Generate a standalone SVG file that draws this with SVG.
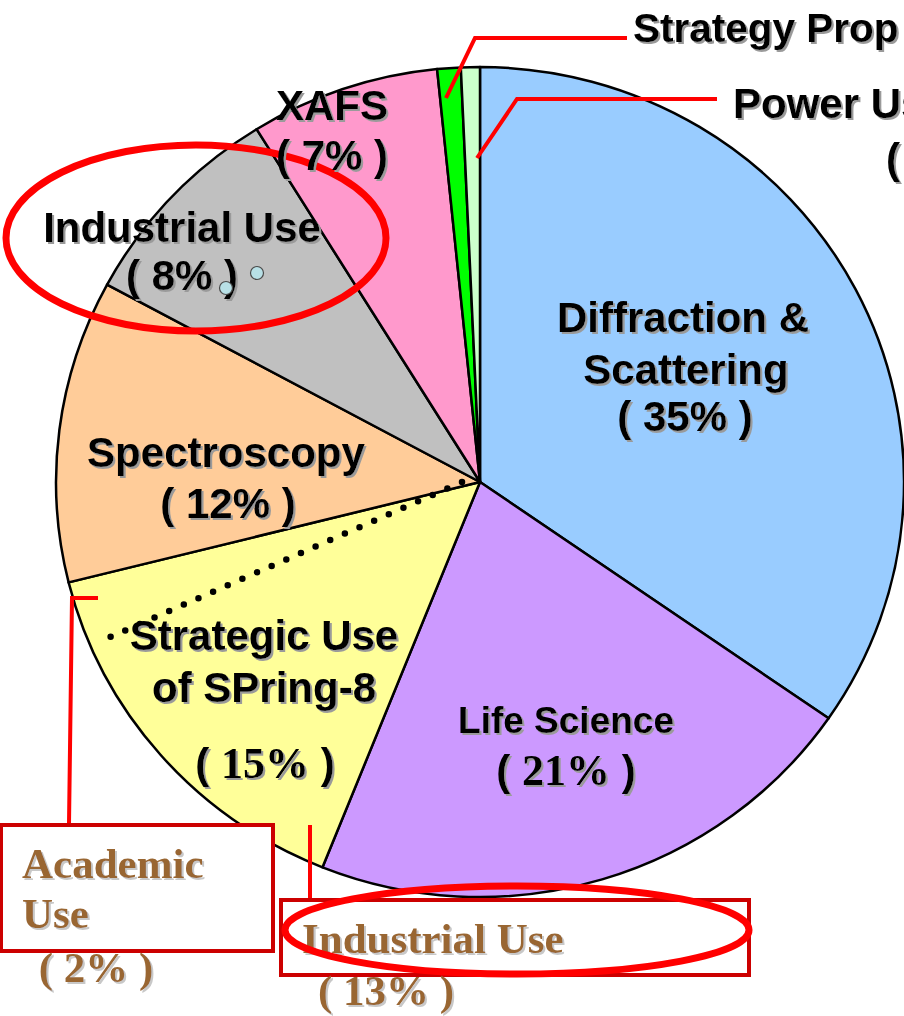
<svg xmlns="http://www.w3.org/2000/svg" width="904" height="1016" viewBox="0 0 904 1016">
<defs>
<filter id="sh" x="-10%" y="-20%" width="130%" height="150%">
<feDropShadow dx="2" dy="2" stdDeviation="0.6" flood-color="#9a9a9a" flood-opacity="1"/>
</filter>
<filter id="sh2" x="-10%" y="-20%" width="130%" height="150%">
<feDropShadow dx="2" dy="2" stdDeviation="0.6" flood-color="#c8c8c8" flood-opacity="1"/>
</filter>
</defs>
<style>
.s{stroke:#000;stroke-width:2.5;stroke-linejoin:round}
.t{font-family:"Liberation Sans",Arial,sans-serif;font-weight:bold;font-size:42px;fill:#000;filter:url(#sh)}
.tc{text-anchor:middle}
.tm{font-family:"Liberation Serif","Times New Roman",serif;font-size:44px}
.b{font-family:"Liberation Serif","Times New Roman",serif;font-weight:bold;font-size:43px;fill:#996633;filter:url(#sh2)}
.ld{fill:none;stroke:#ff0000;stroke-width:4}
.bx{fill:#fff;stroke:#cc0000;stroke-width:4}
.ov{fill:none;stroke:#ff0000;stroke-width:7}
</style>
<rect width="904" height="1016" fill="#fff"/>
<g id="slice-diffraction"><path class="s" fill="#99CCFF" d="M480,482 L480,67 A424,415 0 0,1 828.6,718.3 Z"/></g>
<g id="slice-life"><path class="s" fill="#CC99FF" d="M480,482 L828.6,718.3 A424,415 0 0,1 322.5,867.3 Z"/></g>
<g id="slice-strategic"><path class="s" fill="#FFFF99" d="M480,482 L322.5,867.3 A424,415 0 0,1 68.6,582.4 Z"/></g>
<g id="slice-spectroscopy"><path class="s" fill="#FFCC99" d="M480,482 L68.6,582.4 A424,415 0 0,1 107.1,284.6 Z"/></g>
<g id="slice-industrial"><path class="s" fill="#C0C0C0" d="M480,482 L107.1,284.6 A424,415 0 0,1 256.6,129.2 Z"/></g>
<g id="slice-xafs"><path class="s" fill="#FF99CC" d="M480,482 L256.6,129.2 A424,415 0 0,1 437.1,69.1 Z"/></g>
<g id="slice-strategy-prop"><path class="s" fill="#00FF00" d="M480,482 L437.1,69.1 A424,415 0 0,1 460.8,67.4 Z"/></g>
<g id="slice-power"><path class="s" fill="#CCFFCC" d="M480,482 L460.8,67.4 A424,415 0 0,1 480,67 Z"/></g>

<g id="connectors">
<line x1="462" y1="482" x2="108" y2="638" stroke="#000" stroke-width="6.5" stroke-linecap="round" stroke-dasharray="0 16"/>
<polyline class="ld" points="627,38 475,38 446,98"/>
<polyline class="ld" points="717,99 517,99 477,158"/>
<polyline class="ld" points="98,598 72,598 69,824"/>
<line class="ld" x1="310" y1="825" x2="310" y2="900"/>
</g>

<g id="label-diffraction">
<text class="t tc" x="683" y="332">Diffraction &amp;</text>
<text class="t tc" x="686" y="384">Scattering</text>
<text class="t tc" x="685" y="431">( 35% )</text>
</g>
<g id="label-life">
<text class="t tc" x="566" y="733" style="font-size:37px">Life Science</text>
<text class="t tc" x="566" y="785">( <tspan class="tm">21%</tspan> )</text>
</g>
<g id="label-strategic">
<text class="t tc" x="264" y="650">Strategic Use</text>
<text class="t tc" x="264" y="702">of SPring-8</text>
<text class="t tc" x="265" y="778">( <tspan class="tm">15%</tspan> )</text>
</g>
<g id="label-spectroscopy">
<text class="t tc" x="226" y="467">Spectroscopy</text>
<text class="t tc" x="228" y="518">( 12% )</text>
</g>
<g id="label-industrial">
<text class="t tc" x="182" y="242">Industrial Use</text>
<text class="t tc" x="182" y="290">( 8% )</text>
<circle cx="257" cy="273" r="6.5" fill="#B8E0E6" stroke="#4a4a4a" stroke-width="1.2"/>
<circle cx="226" cy="288" r="6.5" fill="#B8E0E6" stroke="#4a4a4a" stroke-width="1.2"/>
<ellipse class="ov" cx="196" cy="238" rx="190" ry="93"/>
</g>
<g id="label-xafs">
<text class="t tc" x="332" y="120">XAFS</text>
<text class="t tc" x="332" y="170">( 7% )</text>
</g>
<g id="label-strategy-prop">
<text class="t" x="633" y="42" style="font-size:40.5px">Strategy Prop</text>
</g>
<g id="label-power">
<text class="t" x="733" y="118">Power Us</text>
<text class="t" x="886" y="173">(</text>
</g>
<g id="box-academic">
<rect class="bx" x="1" y="825" width="272" height="126"/>
<text class="b" x="22" y="878">Academic</text>
<text class="b" x="22" y="928">Use</text>
<text class="b tc" x="96" y="982">( 2% )</text>
</g>
<g id="box-industrial">
<rect class="bx" x="281" y="900" width="468" height="75"/>
<text class="b" x="302" y="953">Industrial Use</text>
<text class="b tc" x="386" y="1005">( 13% )</text>
<ellipse class="ov" cx="517" cy="930" rx="232" ry="44"/>
</g>
</svg>
